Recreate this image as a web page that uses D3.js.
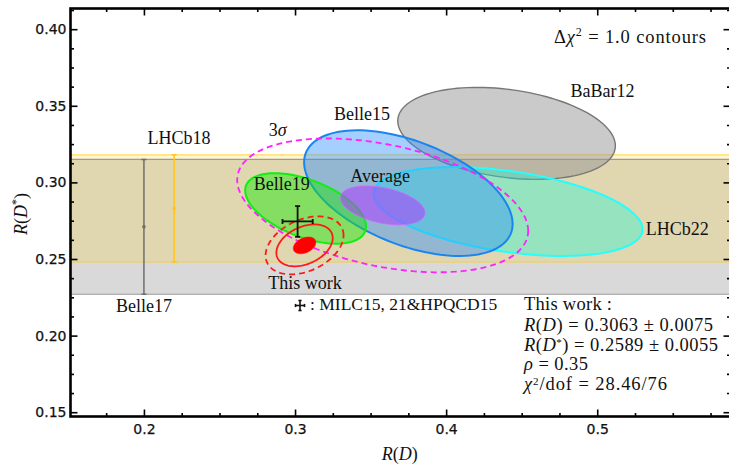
<!DOCTYPE html>
<html>
<head>
<meta charset="utf-8">
<script src="https://cdn.jsdelivr.net/npm/d3@7"></script>
<style>
  body { margin: 0; background: #fff; }
  svg { display: block; }
  text { white-space: pre; }
</style>
</head>
<body>
<svg id="chart" width="729" height="465"></svg>
<script>
// Delta chi^2 = 1 ellipses
const expNames   = ["BaBar12", "LHCb22", "Belle15", "Belle19", "Average"];
const expRD      = [0.440, 0.441, 0.375, 0.307, 0.358];
const expRDerr   = [0.072, 0.089, 0.069, 0.040, 0.028];
const expRDs     = [0.332, 0.281, 0.293, 0.283, 0.285];
const expRDserr  = [0.030, 0.029, 0.041, 0.023, 0.0127];
const expRho     = [-0.27, -0.40, -0.49, -0.51, -0.38];

// R(D*)-only measurements (bands + error bars)
const bandNames  = ["Belle17", "LHCb18"];
const bandRD     = [0.200, 0.220];
const bandRDs    = [0.271, 0.283];
const bandErr    = [0.044, 0.035];

// this work
const fitRD = 0.3063, fitRDerr = 0.0075;
const fitRDs = 0.2589, fitRDserr = 0.0055;
const fitRho = 0.35;
const fitLevels = [1.0, 6.18, 11.83];   // 1, 2, 3 sigma for 2 dof
const avgLevel = 11.83;                  // 3 sigma contour of the average

// lattice point MILC15,21 & HPQCD15
const latRD = [0.3017], latRDerr = [0.0100];
const latRDs = [0.2745], latRDserr = [0.0100];

const xMajor = [0.2, 0.3, 0.4, 0.5];
const yMajor = [0.15, 0.20, 0.25, 0.30, 0.35, 0.40];

const svg = d3.select("#chart");
const pLeft = 70.5, pRight = 730.5, pTop = 8.5, pBottom = 416.5;

const x = d3.scaleLinear().domain([0.1514, 0.5882]).range([pLeft, pRight]);
const y = d3.scaleLinear().domain([0.1472, 0.4135]).range([pBottom, pTop]);

svg.append("defs").append("clipPath").attr("id", "clip")
  .append("rect").attr("x", pLeft).attr("y", pTop)
  .attr("width", pRight - pLeft).attr("height", pBottom - pTop);

const plot = svg.append("g").attr("clip-path", "url(#clip)");

// bands
const bandFill = ["rgba(0,0,0,0.15)", "rgba(255,200,0,0.19)"];
const bandEdge = ["#9a9a9a", "rgba(255,205,40,0.55)"];
bandNames.forEach((n, i) => {
  plot.append("rect")
    .attr("x", pLeft).attr("width", pRight - pLeft)
    .attr("y", y(bandRDs[i] + bandErr[i]))
    .attr("height", y(bandRDs[i] - bandErr[i]) - y(bandRDs[i] + bandErr[i]))
    .attr("fill", bandFill[i]);
});
bandNames.forEach((n, i) => {
  [bandRDs[i] + bandErr[i], bandRDs[i] - bandErr[i]].forEach(v => {
    plot.append("line").attr("x1", pLeft).attr("x2", pRight)
      .attr("y1", y(v)).attr("y2", y(v))
      .attr("stroke", bandEdge[i]).attr("stroke-width", i ? 1.6 : 1.2);
  });
});

// error bars of the band measurements
const barCol = ["#6e6e6e", "#ffc51a"];
bandNames.forEach((n, i) => {
  const g = plot.append("g").attr("stroke", barCol[i]).attr("stroke-width", 1.5);
  const xp = x(bandRD[i]);
  g.append("line").attr("x1", xp).attr("x2", xp)
    .attr("y1", y(bandRDs[i] + bandErr[i])).attr("y2", y(bandRDs[i] - bandErr[i]));
  [bandRDs[i] + bandErr[i], bandRDs[i] - bandErr[i]].forEach(v => {
    g.append("line").attr("x1", xp - 2.5).attr("x2", xp + 2.5)
      .attr("y1", y(v)).attr("y2", y(v));
  });
  plot.append("circle").attr("cx", xp).attr("cy", y(bandRDs[i])).attr("r", 1.8)
    .attr("fill", barCol[i]);
});

function ellipsePts(cx, cy, sx, sy, r, k) {
  return d3.range(120).map(j => {
    const t = j / 120 * 2 * Math.PI;
    return [cx + k * sx * Math.cos(t),
            cy + k * sy * (r * Math.cos(t) + Math.sqrt(1 - r * r) * Math.sin(t))];
  });
}
const line = d3.line().x(d => x(d[0])).y(d => y(d[1])).curve(d3.curveLinearClosed);

// experimental ellipses
const expFill = ["rgba(150,150,150,0.5)", "rgba(0,255,225,0.33)", "rgba(40,140,255,0.42)",
                 "rgba(30,230,10,0.48)", "rgba(175,60,255,0.55)"];
const expStroke = ["#777777", "#22ffff", "#1a85f0", "#11ee11", "rgba(200,110,255,0.8)"];
const expWidth = [1.4, 2, 2, 2, 1];
expNames.forEach((n, i) => {
  plot.append("path")
    .attr("d", line(ellipsePts(expRD[i], expRDs[i], expRDerr[i], expRDserr[i], expRho[i], 1)))
    .attr("fill", expFill[i]).attr("stroke", expStroke[i]).attr("stroke-width", expWidth[i]);
});

// 3 sigma of the average
const ia = expNames.indexOf("Average");
plot.append("path")
  .attr("d", line(ellipsePts(expRD[ia], expRDs[ia], expRDerr[ia], expRDserr[ia], expRho[ia], Math.sqrt(avgLevel))))
  .attr("fill", "none").attr("stroke", "#ff22ff").attr("stroke-width", 1.8)
  .attr("stroke-dasharray", "6,4");

// this work
fitLevels.forEach((lv, i) => {
  plot.append("path")
    .attr("d", line(ellipsePts(fitRD, fitRDs, fitRDerr, fitRDserr, fitRho, Math.sqrt(lv))))
    .attr("fill", i === 0 ? "#ff0000" : "none")
    .attr("stroke", "#ff1a1a").attr("stroke-width", i === 0 ? 0.5 : 1.8)
    .attr("stroke-dasharray", i === 2 ? "6,4" : null);
});

// lattice cross
function cross(g, cx, cy, hx, hy, cap) {
  g.append("line").attr("x1", cx - hx).attr("x2", cx + hx).attr("y1", cy).attr("y2", cy);
  g.append("line").attr("x1", cx).attr("x2", cx).attr("y1", cy - hy).attr("y2", cy + hy);
  [cx - hx, cx + hx].forEach(v => g.append("line").attr("x1", v).attr("x2", v)
    .attr("y1", cy - cap).attr("y2", cy + cap));
  [cy - hy, cy + hy].forEach(v => g.append("line").attr("y1", v).attr("y2", v)
    .attr("x1", cx - cap).attr("x2", cx + cap));
}
const lat = plot.append("g").attr("stroke", "#111").attr("stroke-width", 1.8);
latRD.forEach((v, i) => {
  cross(lat, x(v), y(latRDs[i]), x(v + latRDerr[i]) - x(v), y(latRDs[i]) - y(latRDs[i] + latRDserr[i]), 2.5);
});

// text helper: parts are [string, style], style "i" italic, "sup" superscript
function mathText(g, px, py, parts, anchor, size, supShift, supSize) {
  const t = g.append("text").attr("x", px).attr("y", py)
    .attr("text-anchor", anchor || "start")
    .attr("font-family", "'Liberation Serif', serif")
    .attr("font-size", (size || 18) + "px").attr("fill", "#111");
  let shift = 0;
  parts.forEach(([s, st]) => {
    const sp = t.append("tspan").text(s);
    const want = st === "sup" ? -(supShift || 7) : 0;
    if (want !== shift) { sp.attr("dy", want - shift); shift = want; }
    if (st === "i") sp.attr("font-style", "italic");
    if (st === "sup") sp.attr("font-size", (supSize || 12) + "px");
  });
  return t;
}
function fitWidth(t, w) {
  return t.attr("textLength", w).attr("lengthAdjust", "spacing");
}

const labels = svg.append("g");
const labelNames = ["LHCb18", "Belle17", "BaBar12", "Belle15", "Average", "Belle19", "LHCb22", "This work"];
const labelRD    = [0.2232, 0.2000, 0.5035, 0.3443, 0.3563, 0.2912, 0.5529, 0.3066];
const labelRDs   = [0.3250, 0.2156, 0.3558, 0.3406, 0.3004, 0.2950, 0.2656, 0.2302];
labelNames.forEach((n, i) => mathText(labels, x(labelRD[i]), y(labelRDs[i]), [[n, ""]], "middle"));
mathText(labels, x(0.2885), y(0.3300), [["3", ""], ["σ", "i"]], "middle");

fitWidth(mathText(labels, 554, 43, [["Δ", ""], ["χ", "i"], ["2", "sup"], [" = 1.0 contours", ""]], "start", 18.5), 152);

// legend for the lattice cross
const leg = svg.append("g").attr("stroke", "#111").attr("stroke-width", 1.6);
cross(leg, 300, 305.5, 4.5, 5, 1.6);
mathText(labels, 310, 310, [[": MILC15, 21&HPQCD15", ""]], "start", 17.5);

// result block
const bx = 524, bs = 18.5;
fitWidth(mathText(labels, bx, 310, [["This work :", ""]], "start", bs), 88);
fitWidth(mathText(labels, bx, 331, [["R", "i"], ["(", ""], ["D", "i"], [") = 0.3063 ± 0.0075", ""]], "start", bs), 189);
fitWidth(mathText(labels, bx, 351, [["R", "i"], ["(", ""], ["D", "i"], ["*", "sup"], [") = 0.2589 ± 0.0055", ""]], "start", bs, 5, 11), 194);
fitWidth(mathText(labels, bx, 370, [["ρ", "i"], [" = 0.35", ""]], "start", bs), 64);
fitWidth(mathText(labels, bx, 390, [["χ", "i"], ["2", "sup"], ["/dof = 28.46/76", ""]], "start", bs, 5, 11), 143);

// axes
const axG = svg.append("g");
function drawAxis(axis, tr) {
  const g = axG.append("g").attr("transform", tr).call(axis);
  g.select(".domain").remove();
  g.selectAll(".tick line").attr("stroke", "#000").attr("stroke-width", 1.6);
  g.selectAll(".tick text").attr("font-size", "14px").attr("fill", "#111")
    .attr("stroke", "#111").attr("stroke-width", 0.25)
    .attr("font-family", "'DejaVu Sans', sans-serif");
  return g;
}
const xMinor = d3.range(0.175, 0.5875, 0.025).filter(v => !xMajor.some(m => Math.abs(m - v) < 1e-6));
const yMinor = d3.range(0.15, 0.4136, 0.0125).filter(v => !yMajor.some(m => Math.abs(m - v) < 1e-6));

drawAxis(d3.axisBottom(x).tickValues(xMajor).tickSizeInner(-7).tickSizeOuter(0)
  .tickPadding(8).tickFormat(d3.format(".1f")), `translate(0,${pBottom})`);
drawAxis(d3.axisBottom(x).tickValues(xMinor).tickSizeInner(-3.5).tickSizeOuter(0)
  .tickFormat(""), `translate(0,${pBottom})`);
drawAxis(d3.axisTop(x).tickValues(xMajor).tickSizeInner(-7).tickSizeOuter(0)
  .tickFormat(""), `translate(0,${pTop})`);
drawAxis(d3.axisTop(x).tickValues(xMinor).tickSizeInner(-3.5).tickSizeOuter(0)
  .tickFormat(""), `translate(0,${pTop})`);
drawAxis(d3.axisLeft(y).tickValues(yMajor).tickSizeInner(-7).tickSizeOuter(0)
  .tickPadding(4).tickFormat(d3.format(".2f")), `translate(${pLeft},0)`);
drawAxis(d3.axisLeft(y).tickValues(yMinor).tickSizeInner(-3.5).tickSizeOuter(0)
  .tickFormat(""), `translate(${pLeft},0)`);
drawAxis(d3.axisRight(y).tickValues(yMajor).tickSizeInner(-7).tickSizeOuter(0)
  .tickFormat(""), `translate(${pRight},0)`);
drawAxis(d3.axisRight(y).tickValues(yMinor).tickSizeInner(-3.5).tickSizeOuter(0)
  .tickFormat(""), `translate(${pRight},0)`);

svg.append("rect").attr("x", pLeft).attr("y", pTop)
  .attr("width", pRight - pLeft).attr("height", pBottom - pTop)
  .attr("fill", "none").attr("stroke", "#000").attr("stroke-width", 2.6);

// axis titles
mathText(svg, (pLeft + 729) / 2, 460, [["R", "i"], ["(", ""], ["D", "i"], [")", ""]], "middle");
mathText(svg.append("g").attr("transform", "translate(27,214) rotate(-90)"), 0, 0,
  [["R", "i"], ["(", ""], ["D", "i"], ["*", "sup"], [")", ""]], "middle");
</script>
</body>
</html>
